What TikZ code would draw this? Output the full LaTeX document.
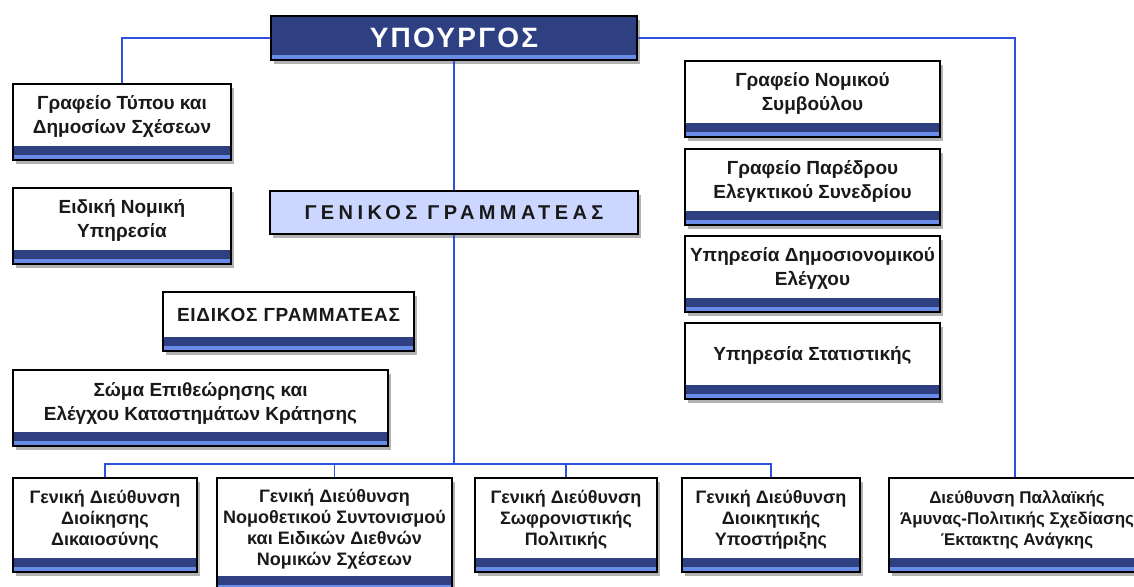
\documentclass[tikz,border=0pt]{standalone}
\usepackage{fontspec}
\setmainfont{Liberation Sans}
\usetikzlibrary{shadows}
\definecolor{ypnavy}{RGB}{46,64,130}
\definecolor{ypstripe}{RGB}{105,140,232}
\definecolor{gsfill}{RGB}{204,215,255}
\definecolor{ypline}{RGB}{45,80,225}
\definecolor{yptext}{RGB}{25,25,25}

\begin{document}
\begin{tikzpicture}[
    x=1pt, y=-1pt,
    every node/.style={font=\bfseries\fontsize{19}{24}\selectfont, text=yptext},
    boxshadow/.style={drop shadow={shadow xshift=3pt, shadow yshift=-4pt, opacity=0.3, fill=black}},
    orgbox/.style={draw=black, line width=1.6pt, fill=white, inner sep=0pt, align=center,
        text depth=14pt, boxshadow,
        path picture={
            \fill[ypnavy] ([yshift=5pt]path picture bounding box.south west) rectangle ([yshift=14pt]path picture bounding box.south east);
            \fill[ypstripe] (path picture bounding box.south west) rectangle ([yshift=5pt]path picture bounding box.south east);
        }},
    bottombox/.style={orgbox, font=\bfseries\fontsize{18}{21}\selectfont},
    headbox/.style={draw=black, line width=1.6pt, inner sep=0pt, text depth=0pt, boxshadow},
    conn/.style={ypline, line width=1.8pt},
]
\clip (0,0) rectangle (1134,586);
\fill[white] (0,0) rectangle (1134,586);

% Minister and secretary general
\node[headbox, fill=ypnavy, text=white, minimum width=366pt, minimum height=44pt,
    font=\bfseries\fontsize{28}{28}\selectfont\addfontfeature{LetterSpace=8},
    path picture={\fill[ypstripe] (path picture bounding box.south west) rectangle ([yshift=5pt]path picture bounding box.south east);}]
    (minister) at (454,38) {ΥΠΟΥΡΓΟΣ};
\node[headbox, fill=gsfill, minimum width=368pt, minimum height=43pt,
    font=\bfseries\fontsize{20}{20}\selectfont\addfontfeature{LetterSpace=22}]
    (gensec) at (454,212.5) {ΓΕΝΙΚΟΣ ΓΡΑΜΜΑΤΕΑΣ};

% Left column
\node[orgbox, minimum width=218pt, minimum height=76pt] (tupos) at (122,122) {Γραφείο Τύπου και\\Δημοσίων Σχέσεων};
\node[orgbox, minimum width=218pt, minimum height=76pt] (eidnomiki) at (122,226) {Ειδική Νομική\\Υπηρεσία};
\node[orgbox, minimum width=251pt, minimum height=59pt,
    font=\bfseries\fontsize{19}{24}\selectfont\addfontfeature{LetterSpace=4}] (eidgram) at (288.5,321.5) {ΕΙΔΙΚΟΣ ΓΡΑΜΜΑΤΕΑΣ};
\node[orgbox, minimum width=375pt, minimum height=76pt] (soma) at (200.5,408) {Σώμα Επιθεώρησης και\\Ελέγχου Καταστημάτων Κράτησης};

% Right column
\node[orgbox, minimum width=255pt, minimum height=76pt] (nomsym) at (812.5,99) {Γραφείο Νομικού\\Συμβούλου};
\node[orgbox, minimum width=255pt, minimum height=76pt] (paredros) at (812.5,187) {Γραφείο Παρέδρου\\Ελεγκτικού Συνεδρίου};
\node[orgbox, minimum width=255pt, minimum height=76pt] (dimelegx) at (812.5,274) {Υπηρεσία Δημοσιονομικού\\Ελέγχου};
\node[orgbox, minimum width=255pt, minimum height=76pt] (statist) at (812.5,361) {Υπηρεσία Στατιστικής};

% General directorates
\node[bottombox, minimum width=184pt, minimum height=94pt] (gddioik) at (105,525) {Γενική Διεύθυνση\\Διοίκησης\\Δικαιοσύνης};
\node[bottombox, minimum width=235pt, minimum height=112pt] (gdnomoth) at (334.5,534) {Γενική Διεύθυνση\\Νομοθετικού Συντονισμού\\και Ειδικών Διεθνών\\Νομικών Σχέσεων};
\node[bottombox, minimum width=182pt, minimum height=94pt] (gdsofr) at (566,525) {Γενική Διεύθυνση\\Σωφρονιστικής\\Πολιτικής};
\node[bottombox, minimum width=178pt, minimum height=94pt] (gdypost) at (771,525) {Γενική Διεύθυνση\\Διοικητικής\\Υποστήριξης};
\node[bottombox, minimum width=256pt, minimum height=94pt,
    font=\bfseries\fontsize{17}{21}\selectfont] (dpallaik) at (1017,525) {Διεύθυνση Παλλαϊκής\\Άμυνας-Πολιτικής Σχεδίασης\\Έκτακτης Ανάγκης};

% Connectors
\coordinate (bus) at (454,464);
\draw[conn] (minister.west) -| (tupos.north);
\draw[conn] (minister.east) -| ([xshift=-2pt]dpallaik.north);
\draw[conn] (minister.south) -- (gensec.north);
\draw[conn] (gensec.south) -- (bus);
\draw[conn] (gddioik.north) |- (bus) -| (gdypost.north);
\draw[conn] (gdnomoth.north) -- (gdnomoth.north |- bus);
\draw[conn] (gdsofr.north) -- (gdsofr.north |- bus);
\end{tikzpicture}
\end{document}
